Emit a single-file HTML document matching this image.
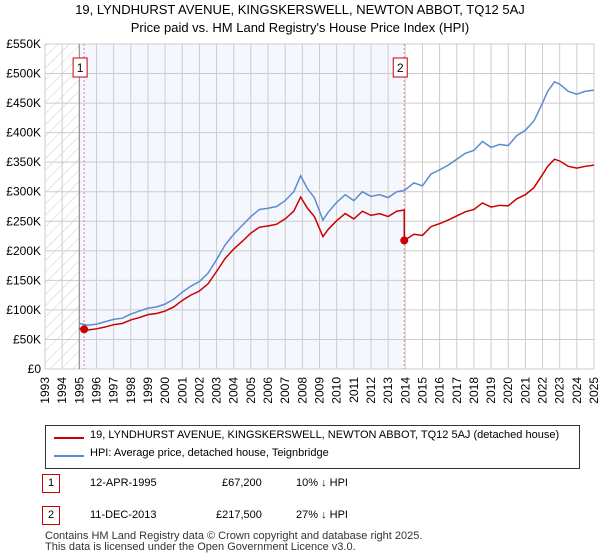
<!DOCTYPE html>
<html><head><meta charset="utf-8"><style>
body{margin:0;background:#fff;font-family:"Liberation Sans",sans-serif;}
#c{position:relative;width:600px;height:560px;overflow:hidden}
.t{position:absolute;font-size:12px;color:#000;white-space:nowrap}
</style></head><body><div id="c">
<div class="t" style="left:0;width:600px;text-align:center;top:1px;font-size:13px;line-height:18px">19, LYNDHURST AVENUE, KINGSKERSWELL, NEWTON ABBOT, TQ12 5AJ<br>Price paid vs. HM Land Registry's House Price Index (HPI)</div>
<svg id="s" width="600" height="420" style="position:absolute;left:0;top:0"></svg>
<div style="position:absolute;left:45px;top:425px;width:533px;height:42px;border:1px solid #333;background:#fff">
<div style="position:absolute;left:8px;top:11px;width:30px;border-top:2px solid #cc0000"></div>
<div class="t" style="left:44px;top:3px;font-size:11px">19, LYNDHURST AVENUE, KINGSKERSWELL, NEWTON ABBOT, TQ12 5AJ (detached house)</div>
<div style="position:absolute;left:8px;top:29px;width:30px;border-top:2px solid #5b8bd0"></div>
<div class="t" style="left:44px;top:21px;font-size:11px">HPI: Average price, detached house, Teignbridge</div>
</div>
<div>
<div class="t" style="left:42px;top:474px;width:16px;height:17px;border:1px solid #cc0000;text-align:center;line-height:17px;font-size:11px">1</div>
<div class="t" style="left:90px;top:477px;font-size:11px">12-APR-1995</div>
<div class="t" style="left:222px;top:477px;font-size:11px">£67,200</div>
<div class="t" style="left:296px;top:477px;font-size:11px">10% ↓ HPI</div></div>
<div>
<div class="t" style="left:42px;top:506px;width:16px;height:17px;border:1px solid #cc0000;text-align:center;line-height:17px;font-size:11px">2</div>
<div class="t" style="left:90px;top:509px;font-size:11px">11-DEC-2013</div>
<div class="t" style="left:216px;top:509px;font-size:11px">£217,500</div>
<div class="t" style="left:296px;top:509px;font-size:11px">27% ↓ HPI</div></div>
<div class="t" style="left:45px;top:531px;font-size:11px;line-height:11px;color:#333">Contains HM Land Registry data © Crown copyright and database right 2025.<br>This data is licensed under the Open Government Licence v3.0.</div>
</div>
<script>
const hpiYears=[1995,1995.5,1996,1996.5,1997,1997.5,1998,1998.5,1999,1999.5,2000,2000.5,2001,2001.5,2002,2002.5,2003,2003.5,2004,2004.5,2005,2005.5,2006,2006.5,2007,2007.5,2007.9,2008.3,2008.7,2009.2,2009.5,2010,2010.5,2011,2011.5,2012,2012.5,2013,2013.5,2013.94,2014.5,2015,2015.5,2016,2016.5,2017,2017.5,2018,2018.5,2019,2019.5,2020,2020.5,2021,2021.5,2022,2022.3,2022.7,2023,2023.5,2024,2024.5,2025];
const hpiValues=[77,74,76,80,84,86,93,98,103,105,110,118,130,140,148,162,185,210,228,243,258,270,272,275,285,300,327,305,290,252,265,282,295,285,300,292,295,290,300,302,315,310,330,337,345,355,365,370,385,375,380,378,395,404,420,450,470,486,482,470,465,470,472];
const redValues=[69,66,68,71,75,77,83,87,92,94,98,105,116,125,132,144,165,187,203,216,230,240,242,245,254,267,291,272,258,224,236,251,263,254,267,260,263,258,267,269,228,226,241,246,252,259,266,270,281,274,277,276,288,295,307,329,343,355,352,343,340,343,345];
const sales=[[1995.28,67.2],[2013.94,217.5]];
const yTicks=[0,50,100,150,200,250,300,350,400,450,500,550];
const xYears=[];for(let y=1993;y<=2025;y++)xYears.push(y);
const X=y=>45+(y-1993)*549/32, Y=v=>369-v*325/550;
const s=document.getElementById('s'),NS='http://www.w3.org/2000/svg';
function el(t,a,p){const e=document.createElementNS(NS,t);for(const k in a)e.setAttribute(k,a[k]);(p||s).appendChild(e);return e;}
const defs=el('defs',{});const pat=el('pattern',{id:'h',width:8,height:8,patternUnits:'userSpaceOnUse',patternTransform:'rotate(45)'},defs);
el('line',{x1:0,y1:0,x2:0,y2:8,stroke:'#ccc','stroke-width':1},pat);
let r=el('rect',{x:45,y:44,width:X(1995)-45,height:325,fill:'url(#h)'});
r=el('rect',{x:X(1995),y:44,width:X(sales[1][0])-X(1995),height:325,fill:'#f4f7fe'});
xYears.forEach(y=>{let l=el('line',{x1:X(y),x2:X(y),y1:44,y2:369,stroke:'#ccc'});
let t=el('text',{x:X(y)+4,y:377,'font-size':12,'text-anchor':'end',transform:`rotate(-90 ${X(y)+4} 377)`});t.textContent=y;});
yTicks.forEach(v=>{let l=el('line',{x1:45,x2:594,y1:Y(v),y2:Y(v),stroke:'#ccc'});
let t=el('text',{x:41,y:Y(v)+4,'font-size':12,'text-anchor':'end'});t.textContent=v===0?'£0':'£'+v+'K';});
let a=el('line',{x1:X(1995),x2:X(1995),y1:44,y2:369,stroke:'#888'});
sales.forEach((sl,i)=>{let l=el('line',{x1:X(sl[0]),x2:X(sl[0]),y1:44,y2:369,stroke:'#f08080','stroke-dasharray':'2,2'});
let b=el('rect',{x:X(sl[0])-11,y:58,width:14,height:19,fill:'#fff',stroke:'#cc0000'});
let t=el('text',{x:X(sl[0])-4,y:72,'font-size':12,'text-anchor':'middle'});t.textContent=i+1;});
let p=el('polyline',{points:hpiYears.map((y,i)=>X(y)+','+Y(hpiValues[i])).join(' '),fill:'none',stroke:'#5b8bd0','stroke-width':1.5});
const rp=hpiYears.map((y,i)=>X(y)+','+Y(redValues[i]));rp.splice(40,0,X(sales[1][0])+','+Y(sales[1][1]));
p=el('polyline',{points:rp.join(' '),fill:'none',stroke:'#cc0000','stroke-width':1.5});
sales.forEach(sl=>{let c=el('circle',{cx:X(sl[0]),cy:Y(sl[1]),r:4,fill:'#cc0000'});});
</script></body></html>
